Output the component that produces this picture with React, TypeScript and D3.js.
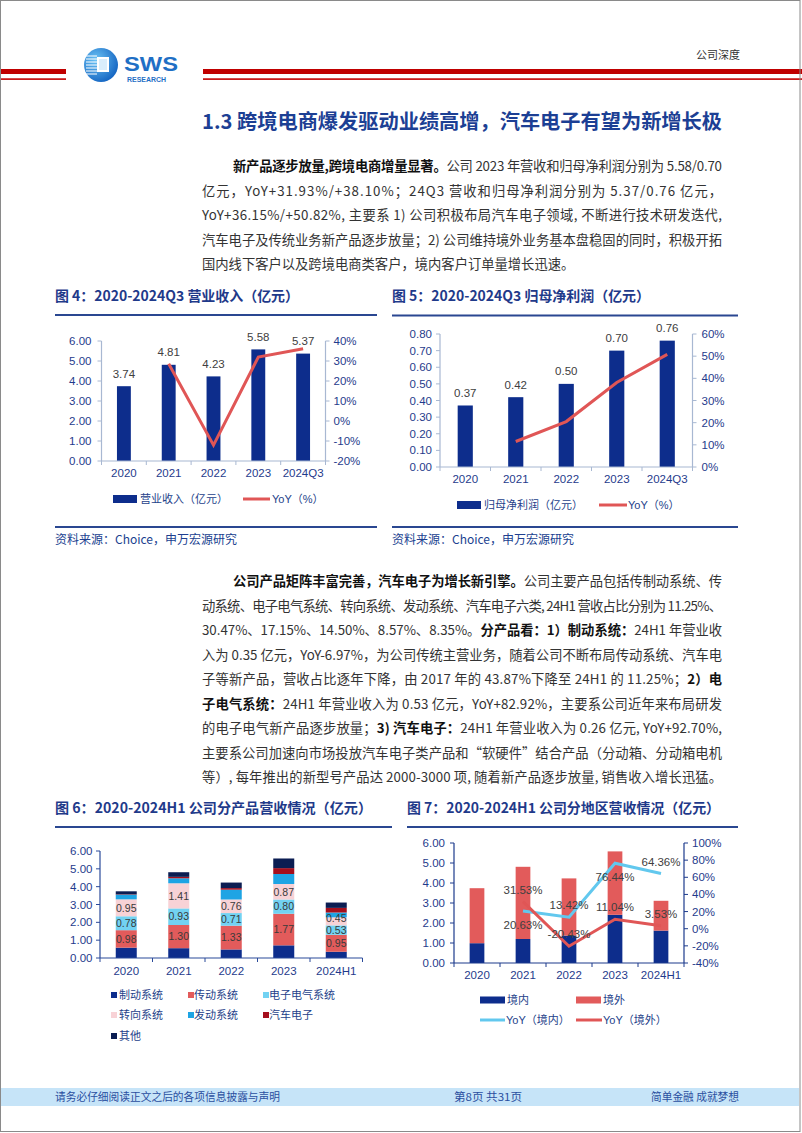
import React from 'react';
import * as d3 from 'd3';

const CJK = '"Noto Sans CJK SC","Noto Sans",sans-serif';
const LAT = '"Liberation Sans","Noto Sans CJK SC",sans-serif';

const NAVY = '#0d2d8c';
const SALMON = '#e25b5b';
const LINE_RED = '#e05656';
const CYAN_LINE = '#62c8ee';
const TICK_BLUE = '#1f3b8c';
const VALUE_GRAY = '#404040';
const TITLE_BLUE = '#1f3a8a';
const LEGEND_TXT = '#253f8a';

// ---------- Figure 4 ----------
const years4 = ['2020', '2021', '2022', '2023', '2024Q3'];
const revenue = [3.74, 4.81, 4.23, 5.58, 5.37];
const revenueYoY: (number | null)[] = [null, 28.61, -12.06, 31.93, 36.15];
const revTicks = [0, 1, 2, 3, 4, 5, 6];
const revYoYTicks = [-20, -10, 0, 10, 20, 30, 40];

// ---------- Figure 5 ----------
const profit = [0.37, 0.42, 0.5, 0.7, 0.76];
const profitYoY: (number | null)[] = [null, 11.5, 20.5, 38.1, 50.82];
const profitTicks = [0, 0.1, 0.2, 0.3, 0.4, 0.5, 0.6, 0.7, 0.8];
const profitYoYTicks = [0, 10, 20, 30, 40, 50, 60];

// ---------- Figure 6 ----------
const years6 = ['2020', '2021', '2022', '2023', '2024H1'];
const productNames = ['制动系统', '传动系统', '电子电气系统', '转向系统', '发动系统', '汽车电子', '其他'];
const productColors = ['#0d2d8c', '#e25b5b', '#72d2f2', '#f8d2d6', '#1ea4e4', '#a50f1c', '#0b1d52'];
const brake = [0.58, 0.55, 0.48, 0.71, 0.35];
const transmission = [0.98, 1.3, 1.33, 1.77, 0.95];
const electrical = [0.78, 0.93, 0.71, 0.8, 0.53];
const steering = [0.95, 1.41, 0.76, 0.87, 0.45];
const engine = [0.26, 0.28, 0.55, 0.56, 0.27];
const autoElec = [0.02, 0.08, 0.09, 0.33, 0.26];
const others = [0.17, 0.26, 0.31, 0.54, 0.3];
const labeledProducts = ['传动系统', '电子电气系统', '转向系统'];
const prodTicks = [0, 1, 2, 3, 4, 5, 6];

// ---------- Figure 7 ----------
const domestic = [0.99, 1.2, 1.37, 2.41, 1.62];
const overseas = [2.75, 3.61, 2.86, 3.17, 1.49];
const domesticYoY: (number | null)[] = [null, 20.63, 13.42, 76.44, 64.36];
const overseasYoY: (number | null)[] = [null, 31.53, -20.43, 11.04, 3.53];
const domesticLabelSide = ['', 'below', 'above', 'below', 'above'];
const overseasLabelSide = ['', 'above', 'above', 'above', 'above'];
const regionTicks = [0, 1, 2, 3, 4, 5, 6];
const regionYoYTicks = [-40, -20, 0, 20, 40, 60, 80, 100];

// ---------- Text ----------
type Seg = [string, boolean];
const para1: Seg[][] = [
  [['新产品逐步放量,跨境电商增量显著。', true], ['公司 2023 年营收和归母净利润分别为 5.58/0.70', false]],
  [['亿元，YoY+31.93%/+38.10%；24Q3 营收和归母净利润分别为 5.37/0.76 亿元，', false]],
  [['YoY+36.15%/+50.82%, 主要系 1) 公司积极布局汽车电子领域, 不断进行技术研发迭代,', false]],
  [['汽车电子及传统业务新产品逐步放量；2) 公司维持境外业务基本盘稳固的同时，积极开拓', false]],
  [['国内线下客户以及跨境电商类客户，境内客户订单量增长迅速。', false]],
];
const para2: Seg[][] = [
  [['公司产品矩阵丰富完善，汽车电子为增长新引擎。', true], ['公司主要产品包括传制动系统、传', false]],
  [['动系统、电子电气系统、转向系统、发动系统、汽车电子六类, 24H1 营收占比分别为 11.25%、', false]],
  [['30.47%、17.15%、14.50%、8.57%、8.35%。', false], ['分产品看：1）制动系统：', true], ['24H1 年营业收', false]],
  [['入为 0.35 亿元，YoY-6.97%，为公司传统主营业务，随着公司不断布局传动系统、汽车电', false]],
  [['子等新产品，营收占比逐年下降，由 2017 年的 43.87%下降至 24H1 的 11.25%；', false], ['2）电', true]],
  [['子电气系统：', true], ['24H1 年营业收入为 0.53 亿元，YoY+82.92%，主要系公司近年来布局研发', false]],
  [['的电子电气新产品逐步放量；', false], ['3) 汽车电子：', true], ['24H1 年营业收入为 0.26 亿元, YoY+92.70%,', false]],
  [['主要系公司加速向市场投放汽车电子类产品和“软硬件”结合产品（分动箱、分动箱电机', false]],
  [['等）, 每年推出的新型号产品达 2000-3000 项, 随着新产品逐步放量, 销售收入增长迅猛。', false]],
];

function Para({ lines, y0, step, justifyLast }: { lines: Seg[][]; y0: number; step: number; justifyLast: boolean }) {
  return (
    <g>
      {lines.map((segs, i) => {
        const x = i === 0 ? 233 : 202;
        const w = 722 - x;
        const justify = i < lines.length - 1 || justifyLast;
        const extra: any = justify ? { textLength: w, lengthAdjust: 'spacing' } : {};
        return (
          <text key={i} x={x} y={y0 + i * step} fontSize={13.3} fontFamily={CJK} fill="#333" {...extra}>
            {segs.map(([t, b], j) => (
              <tspan key={j} fontWeight={b ? 700 : 400} fill={b ? '#111' : '#333'}>
                {t}
              </tspan>
            ))}
          </text>
        );
      })}
    </g>
  );
}

function LeftAxis({ y, x, ticks, fmt, color, gap }: any) {
  return (
    <g>
      <line x1={x} x2={x} y1={y(ticks[0])} y2={y(ticks[ticks.length - 1])} stroke={color} strokeWidth={1.2} />
      {ticks.map((t: number) => (
        <g key={t}>
          <line x1={x - 4} x2={x} y1={y(t)} y2={y(t)} stroke={color} strokeWidth={1} />
          <text x={x - gap} y={y(t)} dy="0.35em" textAnchor="end" fontSize={11.5} fontFamily={LAT} fill={TICK_BLUE}>
            {fmt(t)}
          </text>
        </g>
      ))}
    </g>
  );
}

function RightAxis({ y, x, ticks, fmt, color, gap }: any) {
  return (
    <g>
      <line x1={x} x2={x} y1={y(ticks[0])} y2={y(ticks[ticks.length - 1])} stroke={color} strokeWidth={1.2} />
      {ticks.map((t: number) => (
        <g key={t}>
          <line x1={x} x2={x + 4} y1={y(t)} y2={y(t)} stroke={color} strokeWidth={1} />
          <text x={x + gap} y={y(t)} dy="0.35em" textAnchor="start" fontSize={11.5} fontFamily={LAT} fill={TICK_BLUE}>
            {fmt(t)}
          </text>
        </g>
      ))}
    </g>
  );
}

function BandAxis({ band, y, color, labelDy }: any) {
  const dom: string[] = band.domain();
  const [r0, r1] = band.range();
  const step = band.step();
  return (
    <g>
      <line x1={r0} x2={r1} y1={y} y2={y} stroke={color} strokeWidth={1.2} />
      {d3.range(dom.length + 1).map((i) => (
        <line key={i} x1={r0 + i * step} x2={r0 + i * step} y1={y} y2={y + 4} stroke={color} />
      ))}
      {dom.map((d) => (
        <text key={d} x={band(d) + band.bandwidth() / 2} y={y + labelDy} dy="0.35em" textAnchor="middle" fontSize={11.5} fontFamily={LAT} fill={TICK_BLUE}>
          {d}
        </text>
      ))}
    </g>
  );
}

function ChartTitle({ x, y, len, text, lineX1, lineY }: any) {
  return (
    <g>
      <text x={x} y={y + 5} fontSize={14} fontWeight={700} fontFamily={CJK} fill={TITLE_BLUE} textLength={len} lengthAdjust="spacingAndGlyphs">
        {text}
      </text>
      <line x1={x} x2={lineX1} y1={lineY} y2={lineY} stroke="#2a4791" strokeWidth={2} />
    </g>
  );
}

function Fig4() {
  const x0 = 101.5, x1 = 325.5, yT = 341, yB = 461;
  const band = d3.scaleBand<string>().domain(years4).range([x0, x1]);
  const y = d3.scaleLinear().domain([0, 6]).range([yB, yT]);
  const yr = d3.scaleLinear().domain([-20, 40]).range([yB, yT]);
  const bw = band.step() * 0.31;
  const cx = (c: string) => (band(c) as number) + band.bandwidth() / 2;
  const pts = years4.map((c, i) => [c, revenueYoY[i]] as [string, number | null]);
  const line = d3.line<[string, number | null]>().defined((d) => d[1] != null).x((d) => cx(d[0])).y((d) => yr(d[1] as number));
  const axisC = '#a8b8d2';
  return (
    <g>
      <ChartTitle x={55} y={296} len={244} text="图 4：2020-2024Q3 营业收入（亿元）" lineX1={377} lineY={315} />
      {years4.map((c, i) => (
        <rect key={c} x={cx(c) - bw / 2} y={y(revenue[i])} width={bw} height={yB - y(revenue[i])} fill={NAVY} />
      ))}
      <LeftAxis y={y} x={x0} ticks={revTicks} fmt={(t: number) => t.toFixed(2)} color={axisC} gap={10} />
      <RightAxis y={yr} x={x1} ticks={revYoYTicks} fmt={(t: number) => t + '%'} color={axisC} gap={8} />
      <BandAxis band={band} y={yB} color={axisC} labelDy={12} />
      <path d={line(pts) || ''} fill="none" stroke={LINE_RED} strokeWidth={3} />
      {years4.map((c, i) => (
        <text key={c} x={cx(c)} y={y(revenue[i]) - 12.5} dy="0.35em" textAnchor="middle" fontSize={11.5} fontFamily={LAT} fill={VALUE_GRAY}>
          {revenue[i].toFixed(2)}
        </text>
      ))}
      <rect x={113} y={495} width={24} height={8} fill={NAVY} />
      <text x={140} y={499} dy="0.35em" fontSize={11} fontFamily={CJK} fill={LEGEND_TXT}>营业收入（亿元）</text>
      <line x1={243} x2={270} y1={499} y2={499} stroke={LINE_RED} strokeWidth={3} />
      <text x={272} y={499} dy="0.35em" fontSize={11} fontFamily={LAT} fill={LEGEND_TXT}>YoY（%）</text>
      <line x1={55} x2={377} y1={527} y2={527} stroke="#2a4791" strokeWidth={2} />
      <text x={55} y={540} dy="0.35em" fontSize={12} fontFamily={CJK} fill="#203f90">资料来源：Choice，申万宏源研究</text>
    </g>
  );
}

function Fig5() {
  const x0 = 440, x1 = 692.5, yT = 334, yB = 467;
  const band = d3.scaleBand<string>().domain(years4).range([x0, x1]);
  const y = d3.scaleLinear().domain([0, 0.8]).range([yB, yT]);
  const yr = d3.scaleLinear().domain([0, 60]).range([yB, yT]);
  const bw = band.step() * 0.3;
  const cx = (c: string) => (band(c) as number) + band.bandwidth() / 2;
  const pts = years4.map((c, i) => [c, profitYoY[i]] as [string, number | null]);
  const line = d3.line<[string, number | null]>().defined((d) => d[1] != null).x((d) => cx(d[0])).y((d) => yr(d[1] as number));
  const axisC = '#a8b8d2';
  return (
    <g>
      <ChartTitle x={392} y={296} len={258} text="图 5：2020-2024Q3 归母净利润（亿元）" lineX1={738} lineY={315.5} />
      {years4.map((c, i) => (
        <rect key={c} x={cx(c) - bw / 2} y={y(profit[i])} width={bw} height={yB - y(profit[i])} fill={NAVY} />
      ))}
      <LeftAxis y={y} x={x0} ticks={profitTicks} fmt={(t: number) => t.toFixed(2)} color={axisC} gap={8} />
      <RightAxis y={yr} x={x1} ticks={profitYoYTicks} fmt={(t: number) => t + '%'} color={axisC} gap={9} />
      <BandAxis band={band} y={yB} color={axisC} labelDy={12} />
      <path d={line(pts) || ''} fill="none" stroke={LINE_RED} strokeWidth={3} />
      {years4.map((c, i) => (
        <text key={c} x={cx(c)} y={y(profit[i]) - 12.5} dy="0.35em" textAnchor="middle" fontSize={11.5} fontFamily={LAT} fill={VALUE_GRAY}>
          {profit[i].toFixed(2)}
        </text>
      ))}
      <rect x={457} y={501} width={24} height={8} fill={NAVY} />
      <text x={484} y={505} dy="0.35em" fontSize={11} fontFamily={CJK} fill={LEGEND_TXT}>归母净利润（亿元）</text>
      <line x1={599} x2={627} y1={505} y2={505} stroke={LINE_RED} strokeWidth={3} />
      <text x={628} y={505} dy="0.35em" fontSize={11} fontFamily={LAT} fill={LEGEND_TXT}>YoY（%）</text>
      <line x1={392} x2={738} y1={527} y2={527} stroke="#2a4791" strokeWidth={2} />
      <text x={392} y={540} dy="0.35em" fontSize={12} fontFamily={CJK} fill="#203f90">资料来源：Choice，申万宏源研究</text>
    </g>
  );
}

function Fig6() {
  const x0 = 100, x1 = 362.5, yT = 851, yB = 958;
  const band = d3.scaleBand<string>().domain(years6).range([x0, x1]);
  const y = d3.scaleLinear().domain([0, 6]).range([yB, yT]);
  const bw = band.step() * 0.4;
  const cx = (c: string) => (band(c) as number) + band.bandwidth() / 2;
  const series = [brake, transmission, electrical, steering, engine, autoElec, others];
  const rows = years6.map((yr, i) => {
    const r: any = { year: yr };
    productNames.forEach((n, k) => (r[n] = series[k][i]));
    return r;
  });
  const stacked = d3.stack<any>().keys(productNames)(rows);
  const axisC = '#2a4a9a';
  const legendCols = [[111, 119], [188, 194], [263, 269]];
  const legendRows = [995, 1015, 1036];
  // segment labels, nudged apart when segments are thinner than a line of text
  const labelSeries = stacked.filter((s) => labeledProducts.includes(s.key));
  const segLabels: { x: number; y: number; t: string; key: string }[] = [];
  years6.forEach((yr, i) => {
    let prevY = Infinity;
    labelSeries.forEach((s) => {
      const d = s[i];
      let ly = (y(d[0]) + y(d[1])) / 2;
      if (prevY - ly < 11.5) ly = prevY - 11.5;
      prevY = ly;
      segLabels.push({ x: cx(yr), y: ly, t: (d[1] - d[0]).toFixed(2), key: s.key + yr });
    });
  });
  return (
    <g>
      <ChartTitle x={55} y={808} len={317} text="图 6：2020-2024H1 公司分产品营收情况（亿元）" lineX1={392} lineY={827} />
      {stacked.map((s, k) => (
        <g key={s.key}>
          {s.map((d, i) => (
            <rect key={i} x={cx(years6[i]) - bw / 2} y={y(d[1])} width={bw} height={y(d[0]) - y(d[1])} fill={productColors[k]} />
          ))}
        </g>
      ))}
      <LeftAxis y={y} x={x0} ticks={prodTicks} fmt={(t: number) => t.toFixed(2)} color={axisC} gap={7.5} />
      <BandAxis band={band} y={yB} color={axisC} labelDy={13} />
      {segLabels.map((l) => (
        <text key={l.key} x={l.x} y={l.y} dy="0.36em" textAnchor="middle" fontSize={10.5} fontFamily={LAT} fill="#3a3a3a">
          {l.t}
        </text>
      ))}
      {productNames.map((n, k) => {
        const col = k % 3;
        const row = Math.floor(k / 3);
        const cy = legendRows[row];
        return (
          <g key={n}>
            <rect x={legendCols[col][0]} y={cy - 3} width={6} height={6} fill={productColors[k]} />
            <text x={legendCols[col][1]} y={cy} dy="0.35em" fontSize={11} fontFamily={CJK} fill={LEGEND_TXT}>{n}</text>
          </g>
        );
      })}
    </g>
  );
}

function Fig7() {
  const x0 = 454, x1 = 684, yT = 843, yB = 963;
  const band = d3.scaleBand<string>().domain(years6).range([x0, x1]);
  const y = d3.scaleLinear().domain([0, 6]).range([yB, yT]);
  const yr = d3.scaleLinear().domain([-40, 100]).range([yB, yT]);
  const bw = band.step() * 0.32;
  const cx = (c: string) => (band(c) as number) + band.bandwidth() / 2;
  const line = d3.line<[string, number | null]>().defined((d) => d[1] != null).x((d) => cx(d[0])).y((d) => yr(d[1] as number));
  const domPts = years6.map((c, i) => [c, domesticYoY[i]] as [string, number | null]);
  const ovsPts = years6.map((c, i) => [c, overseasYoY[i]] as [string, number | null]);
  const axisC = '#1c3a8c';
  const labels = (vals: (number | null)[], sides: string[]) =>
    years6.map((c, i) =>
      vals[i] == null ? null : (
        <text key={c} x={cx(c)} y={yr(vals[i] as number) + (sides[i] === 'below' ? 14 : -12)} dy="0.35em" textAnchor="middle" fontSize={11.5} fontFamily={LAT} fill={VALUE_GRAY}>
          {(vals[i] as number).toFixed(2) + '%'}
        </text>
      )
    );
  return (
    <g>
      <ChartTitle x={407} y={808} len={313} text="图 7：2020-2024H1 公司分地区营收情况（亿元）" lineX1={738} lineY={827} />
      {years6.map((c, i) => (
        <g key={c}>
          <rect x={cx(c) - bw / 2} y={y(domestic[i])} width={bw} height={yB - y(domestic[i])} fill={NAVY} />
          <rect x={cx(c) - bw / 2} y={y(domestic[i] + overseas[i])} width={bw} height={y(domestic[i]) - y(domestic[i] + overseas[i])} fill={SALMON} />
        </g>
      ))}
      <LeftAxis y={y} x={x0} ticks={regionTicks} fmt={(t: number) => t.toFixed(2)} color={axisC} gap={9} />
      <RightAxis y={yr} x={x1} ticks={regionYoYTicks} fmt={(t: number) => t + '%'} color={axisC} gap={8} />
      <BandAxis band={band} y={yB} color={axisC} labelDy={12} />
      <path d={line(domPts) || ''} fill="none" stroke={CYAN_LINE} strokeWidth={3} />
      <path d={line(ovsPts) || ''} fill="none" stroke={LINE_RED} strokeWidth={3} />
      {labels(domesticYoY, domesticLabelSide)}
      {labels(overseasYoY, overseasLabelSide)}
      <rect x={480} y={996.5} width={25} height={7} fill={NAVY} />
      <text x={507} y={1000} dy="0.35em" fontSize={11} fontFamily={CJK} fill={LEGEND_TXT}>境内</text>
      <rect x={576} y={996.5} width={25} height={7} fill={SALMON} />
      <text x={603} y={1000} dy="0.35em" fontSize={11} fontFamily={CJK} fill={LEGEND_TXT}>境外</text>
      <line x1={480} x2={505} y1={1020} y2={1020} stroke={CYAN_LINE} strokeWidth={3} />
      <text x={506} y={1020} dy="0.35em" fontSize={11} fontFamily={LAT} fill={LEGEND_TXT}>YoY（境内）</text>
      <line x1={576} x2={602} y1={1020} y2={1020} stroke={LINE_RED} strokeWidth={3} />
      <text x={603} y={1020} dy="0.35em" fontSize={11} fontFamily={LAT} fill={LEGEND_TXT}>YoY（境外）</text>
    </g>
  );
}

function Header() {
  const stripes = d3.range(7).map((i) => 56 + i * 3);
  return (
    <g>
      <rect x={0} y={69} width={66} height={5} fill="#c00000" />
      <rect x={0} y={78.3} width={66} height={1.6} fill="#c00000" />
      <rect x={203} y={69} width={599} height={5} fill="#c00000" />
      <rect x={203} y={78.3} width={599} height={1.6} fill="#c00000" />
      <defs>
        <radialGradient id="logoG" cx="0.35" cy="0.35" r="0.75">
          <stop offset="0" stopColor="#6cc4f5" />
          <stop offset="1" stopColor="#0f5fbf" />
        </radialGradient>
      </defs>
      <circle cx={101} cy={65} r={17} fill="url(#logoG)" />
      {stripes.map((s) => (
        <line key={s} x1={86} x2={97} y1={s} y2={s} stroke="#ffffff" strokeWidth={1.2} opacity={0.85} />
      ))}
      <rect x={97} y={57} width={12} height={15} fill="#ffffff" />
      <rect x={99} y={59} width={8} height={11} fill="#d9eefc" />
      <text x={124} y={70.5} fontSize={21} fontWeight={700} fontFamily={LAT} fill="#1f6fc5" textLength={54} lengthAdjust="spacingAndGlyphs">SWS</text>
      <text x={127} y={82} fontSize={7.5} fontWeight={700} fontFamily={LAT} fill="#1f6fc5" textLength={39} lengthAdjust="spacingAndGlyphs">RESEARCH</text>
      <text x={696} y={59} fontSize={11} fontFamily={CJK} fill="#333">公司深度</text>
      <text x={202} y={129} fontSize={20} fontWeight={700} fontFamily={CJK} fill="#1c3f94" textLength={520} lengthAdjust="spacingAndGlyphs">
        1.3 跨境电商爆发驱动业绩高增，汽车电子有望为新增长极
      </text>
    </g>
  );
}

function Footer() {
  return (
    <g>
      <rect x={1} y={1088} width={798} height={18} fill="#c6e4f8" />
      <text x={55} y={1101} fontSize={11} fontFamily={CJK} fill="#2a4fa0" textLength={225} lengthAdjust="spacingAndGlyphs">请务必仔细阅读正文之后的各项信息披露与声明</text>
      <text x={454} y={1101} fontSize={11} fontFamily={CJK} fill="#2a4fa0" textLength={68} lengthAdjust="spacingAndGlyphs">第8页 共31页</text>
      <text x={651} y={1101} fontSize={11} fontFamily={CJK} fill="#2a4fa0" textLength={88} lengthAdjust="spacingAndGlyphs">简单金融 成就梦想</text>
    </g>
  );
}

export default function App() {
  return (
    <svg width={802} height={1133} viewBox="0 0 802 1133" style={{ position: 'absolute', left: 0, top: 0, background: '#fff' }}>
      <rect x={0} y={0} width={802} height={1133} fill="#fff" />
      <Header />
      <Para lines={para1} y0={171} step={24.6} justifyLast={false} />
      <Fig4 />
      <Fig5 />
      <Para lines={para2} y0={586} step={24.5} justifyLast={true} />
      <Fig6 />
      <Fig7 />
      <Footer />
      <rect x={0.5} y={0.5} width={799.5} height={1131} fill="none" stroke="#8a8a8a" strokeWidth={1} />
    </svg>
  );
}
